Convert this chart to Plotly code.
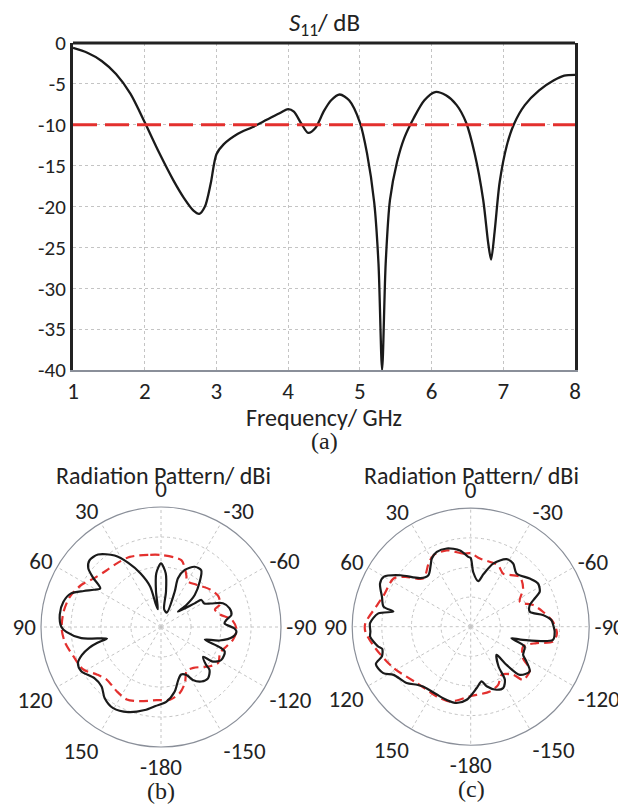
import plotly.graph_objects as go

# ---------------- data ----------------
freq_ghz = [1.0, 1.2, 1.4, 1.6, 1.8, 2.0, 2.2, 2.4, 2.55, 2.68, 2.76, 2.84, 2.92, 3.0, 3.1,
            3.3, 3.5, 3.7, 3.9, 4.0, 4.08, 4.18, 4.28, 4.38, 4.5, 4.6, 4.72, 4.85, 5.0,
            5.1, 5.2, 5.26, 5.31, 5.36, 5.42, 5.52, 5.62, 5.75, 5.9, 6.05, 6.2, 6.35,
            6.48, 6.6, 6.72, 6.79, 6.83, 6.88, 6.95, 7.05, 7.15, 7.3, 7.5, 7.7, 7.85, 8.0]
s11_db = [-0.6, -1.2, -2.2, -3.8, -6.2, -9.7, -13.4, -16.8, -19.0, -20.5, -20.9, -20.0, -17.2, -13.6, -12.4,
          -11.1, -10.3, -9.4, -8.5, -8.1, -8.4, -9.8, -11.0, -10.4, -8.3, -7.0, -6.3, -7.0, -9.7,
          -13.5, -19.5, -27.0, -40.0, -27.0, -19.2, -14.5, -11.6, -9.2, -7.0, -6.0, -6.4, -7.6,
          -9.7, -13.5, -19.2, -24.5, -26.5, -23.0, -17.0, -12.5, -9.9, -7.6, -5.8, -4.6, -4.0, -3.9]
threshold_db = -10

x_ticks = [1, 2, 3, 4, 5, 6, 7, 8]
y_ticks = [0, -5, -10, -15, -20, -25, -30, -35, -40]
y_ticktext = ["0", "-5", "-10", "-15", "-20", "-25", "-30", "-35", "-40"]

angle_tickvals = [0, 30, 60, 90, 120, 150, 180, 210, 240, 270, 300, 330]
angle_ticktext = ["0", "30", "60", "90", "120", "150", "-180", "-150", "-120", "-90", "-60", "-30"]

# (b) pattern, solid (theta deg, gain dBi)
b_solid_theta = [0, 5, 8, 10, 13, 15, 21, 27, 33, 41, 47, 51, 54, 57.5, 61, 65, 69.5, 75.5, 83, 90,
                 93, 98, 102, 104, 106, 109.5, 113.5, 119, 127.5, 135, 141.5, 149.5, 159, 169, 176,
                 184, 192, 198, 203, 208, 211, 216.5, 222.5, 228.5, 230, 234.7, 236.3, 241.3, 248.8,
                 251, 254, 257, 262.3, 266.4, 269, 273.3, 276.1, 279.7, 285.2, 291, 295.2, 298.5,
                 303.8, 305.1, 312, 311, 313.5, 319.5, 324.7, 330.8, 337.4, 340.8, 338.8, 338,
                 350, 352, 355, 360]
b_solid_gain = [-8.8, -12.0, -18.0, -24.0, -22.0, -16.0, -10.8, -6.0, -1.6, 2.0, 2.6, 1.2, -2.0, -6.0,
                -4.4, -1.6, 2.0, 3.6, 4.0, 3.2, 1.6, -3.2, -11.6, -8.0, -5.2, -2.0, 0.2, 0.4, -2.0,
                -2.0, 0.2, 1.4, 0.4, -1.8, -3.6, -5.0, -8.0, -11.4, -12.8, -11.9, -9.4, -7.4, -6.8,
                -8.4, -10.4, -12.8, -9.2, -7.1, -7.2, -9.2, -14.8, -10.0, -5.8, -4.8, -5.6, -8.8,
                -8.1, -6.2, -6.3, -7.9, -11.6, -13.6, -13.8, -16.3, -22.4, -18.8, -14.5, -10.1,
                -6.8, -7.0, -9.4, -12.8, -17.4, -24.8, -24.0, -18.0, -12.0, -8.8]

# (b) pattern, dashed
b_dash_theta = [0, 10, 24, 34, 44, 54, 62, 71.5, 81.7, 91.4, 99.3, 108.4, 118.7, 126.5, 134, 145.4,
                154.7, 164.2, 176.6, 187.1, 196.1, 203.3, 210.2, 218.4, 231.3, 238, 246.4, 253.7,
                260.2, 268.1, 276, 282, 288, 290.9, 298.3, 307.4, 320, 330.7, 333.5, 337.3, 343.1, 360]
b_dash_gain = [-6.0, -5.6, -4.4, -4.2, -3.8, -2.4, 0.0, 2.0, 2.9, 3.1, 2.4, 0.8, -0.5, -3.4, -4.8,
               -4.0, -3.3, -4.3, -5.6, -5.6, -7.2, -9.8, -13.0, -12.6, -9.1, -7.5, -8.5, -7.2,
               -5.6, -4.8, -6.3, -9.9, -11.1, -9.0, -8.3, -9.4, -11.6, -12.4, -11.0, -9.2, -6.7, -6.0]

# (c) pattern, solid
c_solid_theta = [0, 2, 8, 17, 24.4, 29.7, 33, 39.4, 46, 53.8, 60, 64.5, 71.4, 77, 79, 81.8, 88, 92.8,
                 95.7, 102, 104, 108.5, 111.5, 118, 122, 131.3, 137.2, 141.5, 153.5, 161.6, 169.5,
                 176.9, 185.6, 191.3, 195, 202.3, 208, 212.8, 215, 222.6, 223.2, 225.6, 232.8, 238,
                 241.7, 249.8, 254.2, 255.8, 260.9, 266.6, 270, 274.7, 279.2, 284.2, 290, 293.8,
                 296.8, 302.7, 309.2, 319.3, 326.1, 332, 340.4, 346.3, 350.6, 357.3, 360]
c_solid_gain = [-6.8, -6.4, -4.0, -2.4, -2.3, -3.5, -5.2, -7.5, -6.4, -0.6, 3.8, 3.9, 1.6, 0.2, -3.4,
                1.5, 4.0, 3.9, 4.1, 2.0, 0.8, 1.6, 4.4, 3.4, 0.7, -1.2, -3.3, -4.2, -4.4, -4.0, -3.8,
                -5.3, -9.2, -11.2, -9.2, -7.0, -6.6, -8.7, -13.6, -17.1, -12.3, -6.8, -5.0, -7.8,
                -9.9, -10.6, -15.7, -11.8, -1.9, -1.6, -2.0, -2.7, -5.3, -9.4, -8.8, -6.4, -3.9,
                -3.0, -4.3, -6.3, -4.3, -4.2, -7.4, -11.7, -14.4, -11.6, -6.8]

# (c) pattern, dashed
c_dash_theta = [0, 5.8, 17.4, 27.5, 33.8, 44.4, 52.7, 58, 70, 77, 88.2, 92.7, 102.7, 118.3, 136.3,
                154, 164.6, 179.4, 196.5, 205.3, 212.7, 221.4, 224.6, 233.9, 239, 249.2, 256, 259.7,
                265.6, 273.5, 281.7, 289.1, 296.9, 306.1, 315.4, 328.6, 336, 352.3, 360]
c_dash_gain = [-5.2, -5.2, -3.0, -2.8, -4.4, -7.2, -2.2, 0.7, 1.2, 2.4, 5.6, 5.6, 3.0, -0.5, -3.7,
               -3.8, -3.8, -6.5, -7.2, -8.3, -10.7, -8.4, -4.8, -5.3, -9.4, -11.1, -7.1, -1.8,
               -0.8, -2.2, -5.1, -7.7, -11.4, -8.1, -6.4, -9.0, -7.3, -6.8, -5.2]

# ---------------- style ----------------
SANS = "Carlito, Calibri, Lato, sans-serif"
SERIF = "Liberation Serif, Times New Roman, serif"
TXT = "#222222"
BLACK = "#1a1a1a"
RED = "#e3302e"
GRID = "#c4c4c4"

fig = go.Figure()

fig.add_trace(go.Scatter(x=freq_ghz, y=s11_db, mode="lines",
                         line=dict(color=BLACK, width=2.3, shape="spline", smoothing=0.8),
                         showlegend=False, xaxis="x", yaxis="y"))
fig.add_trace(go.Scatter(x=[freq_ghz[0], freq_ghz[-1]], y=[threshold_db, threshold_db], mode="lines",
                         line=dict(color=RED, width=3, dash="24px,8px"),
                         showlegend=False, xaxis="x", yaxis="y"))

fig.add_trace(go.Scatterpolar(r=b_dash_gain, theta=b_dash_theta, mode="lines",
                              line=dict(color=RED, width=2.2, dash="9px,5px", shape="spline", smoothing=0.8),
                              showlegend=False, subplot="polar"))
fig.add_trace(go.Scatterpolar(r=b_solid_gain, theta=b_solid_theta, mode="lines",
                              line=dict(color=BLACK, width=2.2, shape="spline", smoothing=0.8),
                              showlegend=False, subplot="polar"))
fig.add_trace(go.Scatterpolar(r=c_dash_gain, theta=c_dash_theta, mode="lines",
                              line=dict(color=RED, width=2.2, dash="9px,5px", shape="spline", smoothing=0.8),
                              showlegend=False, subplot="polar2"))
fig.add_trace(go.Scatterpolar(r=c_solid_gain, theta=c_solid_theta, mode="lines",
                              line=dict(color=BLACK, width=2.2, shape="spline", smoothing=0.8),
                              showlegend=False, subplot="polar2"))

# page body adds an 8 px offset; figure sized to fill the rest of the window
OFF = 8
W, H = 626 - OFF, 807 - OFF
def px_x(v):
    return (v - OFF) / W
def px_y(v):
    return 1 - (v - OFF) / H

def polar_layout(cx, cy, rad):
    return dict(
        domain=dict(x=[px_x(cx - rad), px_x(cx + rad)], y=[px_y(cy + rad), px_y(cy - rad)]),
        bgcolor="white",
        angularaxis=dict(rotation=90, direction="counterclockwise", tickmode="array",
                         tickvals=angle_tickvals, ticktext=angle_ticktext, ticks="",
                         showline=True, linecolor="#8a8f99", linewidth=1.2,
                         showgrid=True, gridcolor=GRID, griddash="dot", gridwidth=1,
                         tickfont=dict(family=SANS, size=23, color=TXT)),
        radialaxis=dict(range=[-30, 10], tickvals=[-20, -10, 0], showticklabels=False, ticks="",
                        showline=False, showgrid=True, gridcolor=GRID, griddash="dot", gridwidth=1),
    )

fig.update_layout(
    width=W, height=H,
    autosize=False,
    margin=dict(l=0, r=0, t=0, b=0, pad=0, autoexpand=False),
    paper_bgcolor="white", plot_bgcolor="white",
    font=dict(family=SANS, color=TXT),
    xaxis=dict(domain=[px_x(73), px_x(575)], anchor="y", range=[1, 8], tickvals=x_ticks,
               showgrid=True, gridcolor=GRID, griddash="dot", gridwidth=1, automargin=False,
               showline=True, linecolor="#8a8f99", linewidth=1.5, mirror=False,
               zeroline=False, ticks="", tickfont=dict(family=SANS, size=23, color=TXT)),
    yaxis=dict(domain=[px_y(370), px_y(43)], anchor="x", range=[-40, 0], tickmode="array",
               tickvals=y_ticks, ticktext=y_ticktext, automargin=False,
               showgrid=True, gridcolor=GRID, griddash="dot", gridwidth=1,
               showline=True, linecolor="#222222", linewidth=3, mirror=True,
               zeroline=False, ticks="", tickfont=dict(family=SANS, size=21, color=TXT)),
    polar=polar_layout(161, 627, 120),
    polar2=polar_layout(470.7, 626.7, 118.5),
    shapes=[dict(type="line", xref="x domain", yref="y domain", x0=0, x1=1, y0=1, y1=1,
                 line=dict(color="#222222", width=3))],
)

ann = [
    ("<i>S</i><sub>11</sub>/ dB", 324, 24, SANS, 25),
    ("Frequency/ GHz", 324, 417, SANS, 24),
    ("(a)", 324, 441, SERIF, 24),
    ("Radiation Pattern/ dBi", 163, 475, SANS, 24),
    ("Radiation Pattern/ dBi", 471, 475, SANS, 24),
    ("(b)", 161, 791, SERIF, 24),
    ("(c)", 471, 789, SERIF, 24),
]
fig.update_layout(annotations=[
    dict(text=t, x=px_x(x), y=px_y(y), xref="paper", yref="paper", xanchor="center", yanchor="middle",
         showarrow=False, font=dict(family=f, size=s, color=TXT))
    for t, x, y, f, s in ann
])

fig.write_html("out.html")
